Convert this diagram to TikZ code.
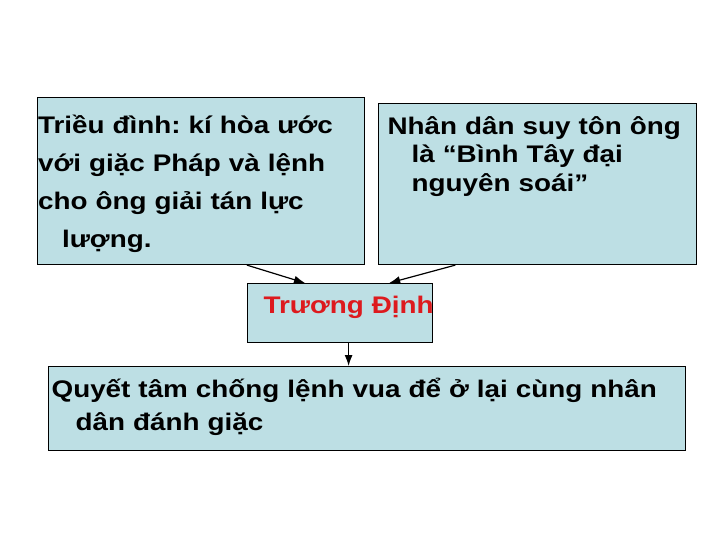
\documentclass[tikz,border=0pt]{standalone}
\usepackage{fontspec}
\setmainfont{Liberation Sans}[FakeStretch=1.16]
\usetikzlibrary{arrows.meta}
\definecolor{boxblue}{HTML}{BDDFE4}
\definecolor{namered}{HTML}{DD1A1E}
\frenchspacing

\begin{document}
\begin{tikzpicture}[x=1pt, y=-1pt, every path/.style={line cap=round, line width=1.2pt}]

        \tikzset{box/.style = {draw, fill=boxblue, anchor=north west, inner ysep=0pt, align=left,
                               font=\bfseries\fontsize{24}{28.8}\selectfont}}
        \tikzset{link/.style = {-{Latex[length=11pt,width=8pt]}}}

        \useasboundingbox (0,0) rectangle (720,540);

        \node[box, inner xsep=0.5pt, text width=326pt, text height=36pt, text depth=131pt,
              font=\bfseries\fontsize{24}{38}\selectfont] (court) at (37,97)
              {Triều đình: kí hòa ước\\với giặc Pháp và lệnh\\cho ông giải tán lực\\\hspace*{1em}lượng.};
        \node[box, inner xsep=9pt, text width=300pt, text height=30.5pt, text depth=130.5pt] (people) at (378,103)
              {Nhân dân suy tôn ông\\\hspace*{1em}là “Bình Tây đại\\\hspace*{1em}nguyên soái”};
        \node[box, inner xsep=16pt, text width=153pt, text height=30pt, text depth=29pt,
              text=namered] (dinh) at (247,283) {Trương~Định};
        \node[box, inner xsep=3pt, text width=631pt, text height=30.7pt, text depth=53.3pt,
              font=\bfseries\fontsize{24}{33.5}\selectfont] (resolve) at (48,366)
              {Quyết tâm chống lệnh vua để ở lại cùng nhân\\\hspace*{1em}dân đánh giặc};

        \draw[link] ([xshift=-118pt]court.south east) -- ([xshift=58pt]dinh.north west);
        \draw[link] ([xshift=77pt]people.south west) -- ([xshift=-44pt]dinh.north east);
        \draw[link] ([xshift=8.5pt]dinh.south) -- ([xshift=8.5pt]dinh.south |- resolve.north);
\end{tikzpicture}
\end{document}
